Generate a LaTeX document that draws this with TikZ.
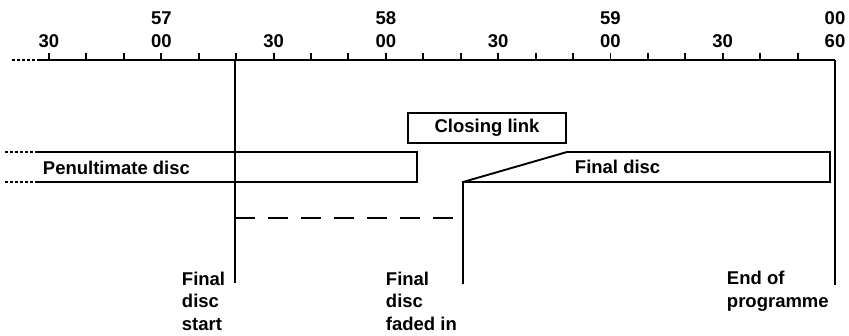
\documentclass[tikz,border=0pt]{standalone}
\usepackage{fontspec}
\setmainfont{Liberation Sans}
\begin{document}
\begin{tikzpicture}[x=1pt,y=-1pt,line width=1.9pt,
  txt/.style={font=\fontsize{18.5}{21}\selectfont\bfseries,inner sep=0pt},
  num/.style={txt,anchor=base},
  lbl/.style={txt,anchor=base west,align=left},
  dotline/.style={line width=1.4pt,dash pattern=on 2.5pt off 2.5pt},
  dashline/.style={dash pattern=on 20pt off 13pt},
  linkbox/.style={draw,txt,minimum width=158pt,minimum height=30pt,inner sep=0pt}]
\useasboundingbox (0,0) rectangle (849,335);
% axis
\coordinate (ax0) at (12,60);
\coordinate (ax1) at (40,60);
\coordinate (ax2) at (835,60);
\draw[dotline] (ax0) -- (ax1);
\draw (ax1) -- (ax2);
\foreach \i in {0,...,20} \draw ({49+37.43*\i},60) -- ++(0,-7);
% labels
\foreach \i/\t in {3/57,9/58,15/59,21/00}
  \node[num] (top\i) at ({49+37.43*\i},24) {\t};
\foreach \i/\t in {0/30,3/00,6/30,9/00,12/30,15/00,18/30,21/60}
  \node[num] (bot\i) at ({49+37.43*\i},47) {\t};
% vertical marker lines
\coordinate (s0) at (235,60);
\coordinate (s1) at (235,283);
\draw (s0) -- (s1);
\coordinate (e0) at (835,60);
\coordinate (e1) at (835,285);
\draw (e0) -- (e1);
% penultimate disc
\coordinate (p0) at (38,152);
\coordinate (p1) at (417,152);
\coordinate (p2) at (417,182);
\coordinate (p3) at (38,182);
\draw (p0) -- (p1) -- (p2) -- (p3);
\coordinate (pd0) at (5,152);
\coordinate (pd1) at (5,182);
\draw[dotline] (pd0) -- (p0);
\draw[dotline] (pd1) -- (p3);
\node[lbl] (pen) at (42,174) {Penultimate disc};
% final disc
\coordinate (f0) at (463,284);
\coordinate (f1) at (463,182);
\coordinate (f2) at (567,152);
\coordinate (f3) at (830,152);
\coordinate (f4) at (830,182);
\draw (f0) -- (f1) -- (f2) -- (f3) -- (f4) -- (f1);
\node[lbl] (fin) at (574,173) {Final disc};
% dashed
\coordinate (d0) at (235,218);
\coordinate (d1) at (463,218);
\draw[dashline] (d0) -- (d1);
% closing link
\node[linkbox] (link) at (487,128) {Closing link};
% bottom labels (base = last line)
\node[lbl] (l1) at (181,330) {Final\\[1.5pt]disc\\[1.5pt]start};
\node[lbl] (l2) at (385,330) {Final\\[1.5pt]disc\\[1.5pt]faded in};
\node[lbl] (l3) at (726,307) {End of\\[1.5pt]programme};
\end{tikzpicture}
\end{document}
